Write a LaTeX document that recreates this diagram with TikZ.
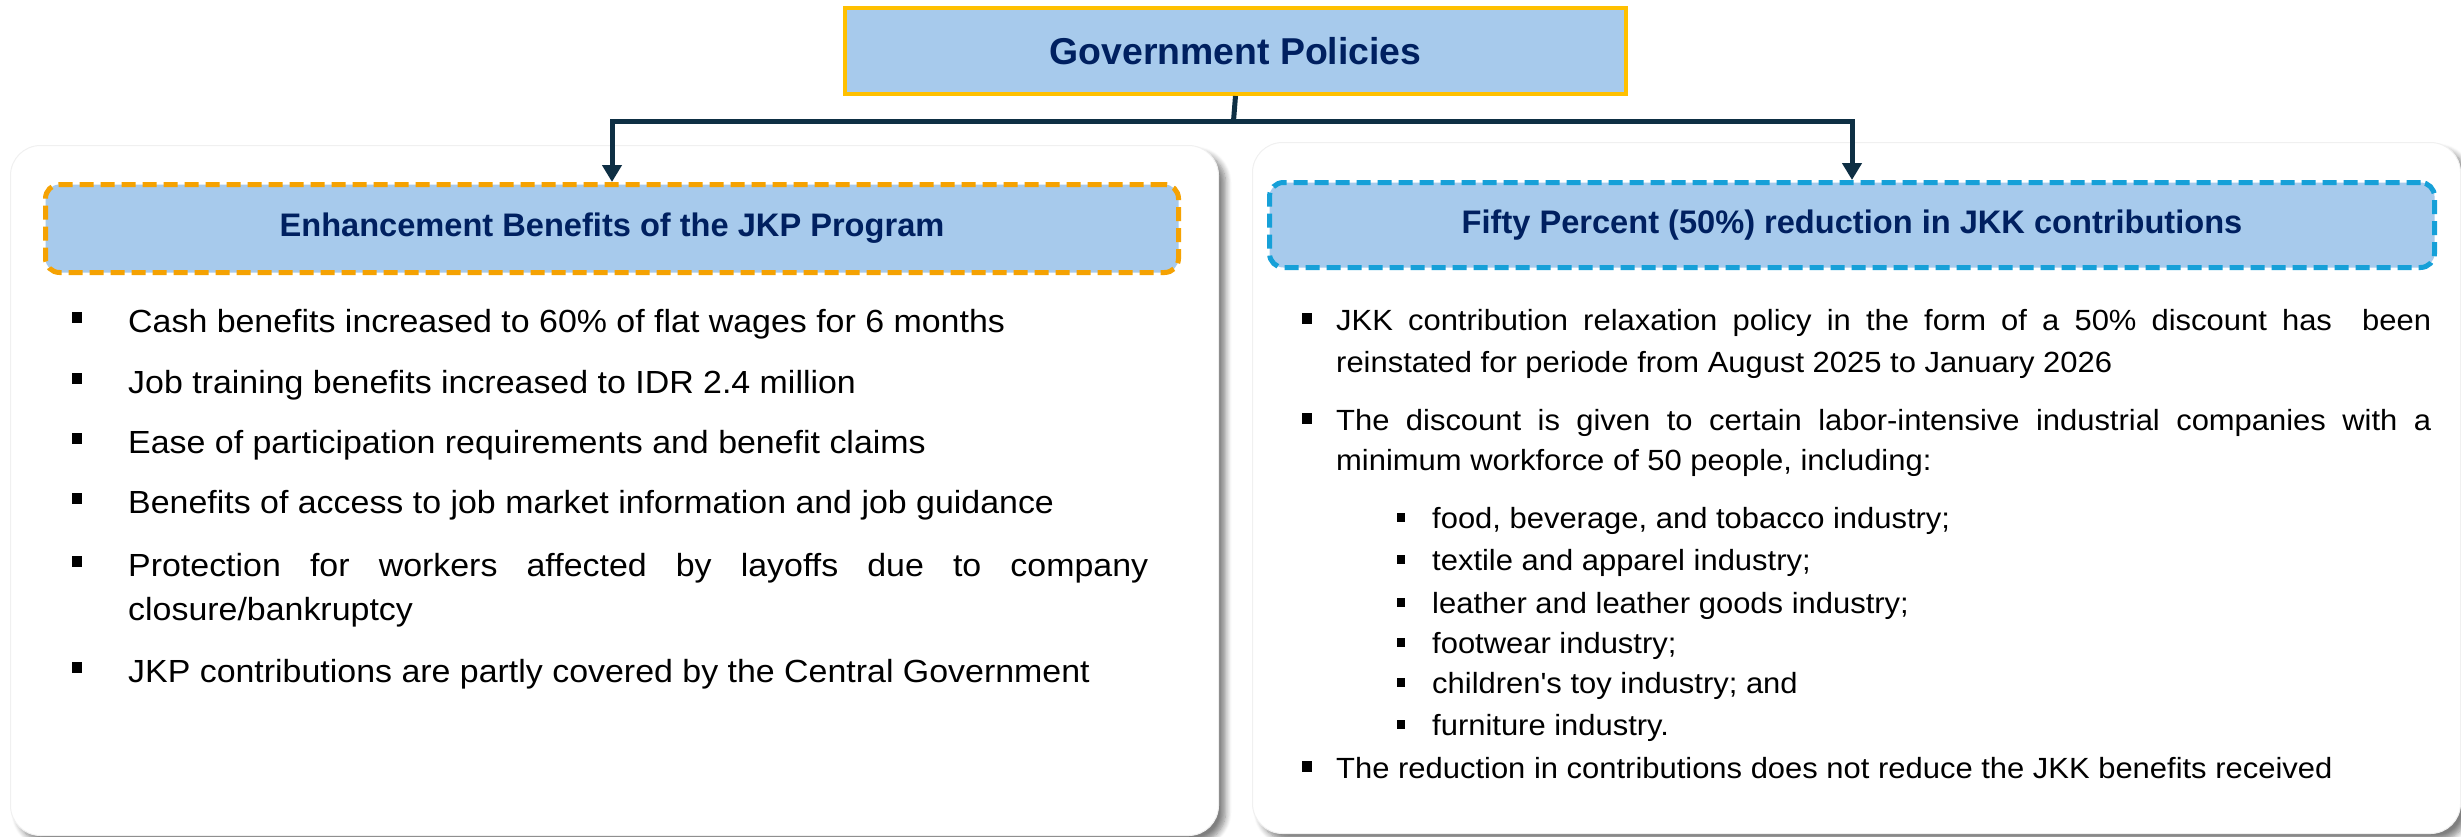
\documentclass[tikz,border=0pt]{standalone}
\usepackage{fontspec}
\setmainfont{Liberation Sans}
\newfontfamily\bodyfont[FakeStretch=1.06]{Liberation Sans}
\usetikzlibrary{arrows.meta,shadows.blur}
\definecolor{boxfill}{HTML}{A7CAEC}
\definecolor{navy}{HTML}{002060}
\definecolor{gold}{HTML}{FFC000}
\definecolor{orangedash}{HTML}{F5A202}
\definecolor{bluedash}{HTML}{16A0D8}
\definecolor{conn}{HTML}{0E2F44}
\tikzset{
  panel/.style={anchor=north west, fill=white, draw=black!6, line width=1pt, rounded corners=30pt,
    inner sep=0pt, blur shadow={shadow xshift=7pt, shadow yshift=-7pt, shadow blur radius=6pt, shadow blur steps=8, shadow opacity=50}},
  titlebox/.style={anchor=north west, fill=boxfill, draw=gold, line width=4pt, inner sep=0pt,
    font=\fontsize{37.4}{44}\selectfont\bfseries, text=navy},
  headbox/.style={anchor=north west, fill=boxfill, line width=5pt, dash pattern=on 14pt off 7pt,
    rounded corners=14pt, inner sep=0pt, font=\fontsize{32.6}{38}\selectfont\bfseries, text=navy},
  ltext/.style={anchor=base west, inner sep=0pt, font=\bodyfont\fontsize{32}{38}\selectfont},
  rtext/.style={anchor=base west, inner sep=0pt, font=\bodyfont\fontsize{29.2}{34}\selectfont},
  bul/.style={fill=black, inner sep=0pt, minimum width=10pt, minimum height=11pt},
  subbul/.style={fill=black, inner sep=0pt, minimum width=8pt, minimum height=9pt},
  connector/.style={draw=conn, line width=5pt},
  arrowline/.style={connector, -{Triangle[length=17pt,width=19pt]}}
}
\begin{document}
\begin{tikzpicture}[x=1pt,y=-1pt]
\useasboundingbox (0,0) rectangle (2461,836);
% panels
\node[panel, minimum width=1208pt, minimum height=690pt] (lpanel) at (10,145) {};
\node[panel, minimum width=1208pt, minimum height=691pt] (rpanel) at (1252,142) {};
% title
\node[titlebox, minimum width=781pt, minimum height=86pt] (title) at (843,6) {Government Policies};
% headers
\node[headbox, draw=orangedash, minimum width=1133pt, minimum height=88pt] (lhead) at (43,182) {Enhancement Benefits of the JKP Program};
\node[headbox, draw=bluedash, minimum width=1165pt, minimum height=85pt] (rhead) at (1267,180) {Fifty Percent (50\%) reduction in JKK contributions};
% connectors
\coordinate (junction) at (1233.5,121);
\draw[connector] (title.south) -- (junction);
\draw[arrowline] (junction) -| (lhead.north);
\draw[arrowline] (junction) -| (rhead.north);
% left list
\node[bul] (lb1) at (77,317) {};
\node[ltext] (lt1) at (128,332) {Cash benefits increased to 60\% of flat wages for 6 months};
\node[bul] (lb2) at (77,378) {};
\node[ltext] (lt2) at (128,393) {Job training benefits increased to IDR 2.4 million};
\node[bul] (lb3) at (77,438) {};
\node[ltext] (lt3) at (128,453) {Ease of participation requirements and benefit claims};
\node[bul] (lb4) at (77,498) {};
\node[ltext] (lt4) at (128,513) {Benefits of access to job market information and job guidance};
\node[bul] (lb5) at (77,561) {};
\node[ltext] (lt5) at (128,576) {\makebox[1020pt][s]{Protection for workers affected by layoffs due to company}};
\node[ltext] (lt5b) at (128,620) {closure/bankruptcy};
\node[bul] (lb6) at (77,667) {};
\node[ltext] (lt6) at (128,682) {JKP contributions are partly covered by the Central Government};
% right list
\node[bul] (rb1) at (1307,318) {};
\node[rtext] (rt1) at (1336,330) {\makebox[1095pt][s]{JKK contribution relaxation policy in the form of a 50\% discount has\ \ been}};
\node[rtext] (rt1b) at (1336,372) {reinstated for periode from August 2025 to January 2026};
\node[bul] (rb2) at (1307,418) {};
\node[rtext] (rt2) at (1336,430) {\makebox[1095pt][s]{The discount is given to certain labor-intensive industrial companies with a}};
\node[rtext] (rt2b) at (1336,470) {minimum workforce of 50 people, including:};
\node[subbul] (sb1) at (1401,517) {};
\node[rtext] (st1) at (1432,528) {food, beverage, and tobacco industry;};
\node[subbul] (sb2) at (1401,559) {};
\node[rtext] (st2) at (1432,570) {textile and apparel industry;};
\node[subbul] (sb3) at (1401,602) {};
\node[rtext] (st3) at (1432,613) {leather and leather goods industry;};
\node[subbul] (sb4) at (1401,642) {};
\node[rtext] (st4) at (1432,653) {footwear industry;};
\node[subbul] (sb5) at (1401,682) {};
\node[rtext] (st5) at (1432,693) {children's toy industry; and};
\node[subbul] (sb6) at (1401,724) {};
\node[rtext] (st6) at (1432,735) {furniture industry.};
\node[bul] (rb3) at (1307,766) {};
\node[rtext] (rt3) at (1336,778) {The reduction in contributions does not reduce the JKK benefits received};
\end{tikzpicture}
\end{document}
